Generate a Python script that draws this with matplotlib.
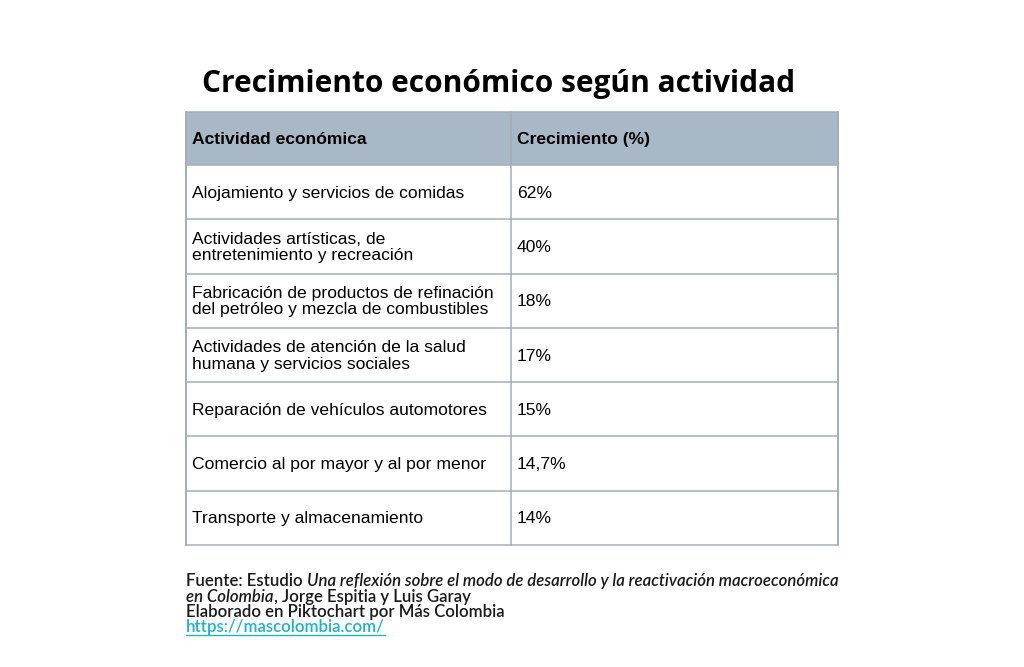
import matplotlib.pyplot as plt
from matplotlib.patches import Rectangle

# table data
header = ['Actividad económica', 'Crecimiento (%)']
actividades = [
    'Alojamiento y servicios de comidas',
    'Actividades artísticas, de\nentretenimiento y recreación',
    'Fabricación de productos de refinación\ndel petróleo y mezcla de combustibles',
    'Actividades de atención de la salud\nhumana y servicios sociales',
    'Reparación de vehículos automotores',
    'Comercio al por mayor y al por menor',
    'Transporte y almacenamiento',
]
crecimiento = ['62%', '40%', '18%', '17%', '15%', '14,7%', '14%']

title = 'Crecimiento económico según actividad'
fuente_a = 'Fuente: Estudio '
fuente_b = 'Una reflexión sobre el modo de desarrollo y la reactivación macroeconómica'
fuente_c = 'en Colombia'
fuente_d = ', Jorge Espitia y Luis Garay'
elaborado = 'Elaborado en Piktochart por Más Colombia'
url = 'https://mascolombia.com/'

header_color = '#a9b8c7'
line_color = '#a3adb8'
table_font = 'Liberation Sans'
foot_font = 'Lato'

fig = plt.figure(figsize=(10.24, 6.67), dpi=100)
ax = fig.add_axes([0, 0, 1, 1])
ax.set_xlim(0, 1024)
ax.set_ylim(667, 0)
ax.axis('off')

# layout in pixels
x0, x1, x2 = 186, 511, 838
top = 112
head_h = 53
row_h = (545 - 165) / len(actividades)
tfs = 12.6

ax.text(499, 84, title, ha='center', va='center', fontsize=21.5,
        fontweight='bold', family='Open Sans', color='black')

ax.add_patch(Rectangle((x0, top), x2 - x0, head_h, facecolor=header_color,
                       edgecolor='none'))
for txt, x in zip(header, [x0, x1]):
    ax.text(x + 6, top + head_h / 2 + 1, txt, ha='left', va='center',
            fontsize=tfs, fontweight='bold', family=table_font, color='black')

for i, (a, c) in enumerate(zip(actividades, crecimiento)):
    y = top + head_h + i * row_h
    ax.text(x0 + 6, y + row_h / 2 + 1, a, ha='left', va='center', fontsize=tfs,
            family=table_font, color='black', linespacing=1.13)
    ax.text(x1 + 6, y + row_h / 2 + 1, c, ha='left', va='center', fontsize=tfs,
            family=table_font, color='black')

# grid lines
bottom = top + head_h + len(actividades) * row_h
ys = [top, top + head_h] + [top + head_h + (i + 1) * row_h for i in range(len(actividades))]
for y in ys:
    ax.plot([x0, x2], [y, y], color=line_color, lw=1.1, solid_capstyle='butt')
for x in [x0, x1, x2]:
    ax.plot([x, x], [top, bottom], color=line_color, lw=1.4 if x != x1 else 1.1)

# footer
fs = 12.1
fc = '#1a1a1a'
t = ax.text(186, 581, fuente_a, ha='left', va='center', fontsize=fs,
            family=foot_font, fontweight='semibold', color=fc)
t2 = ax.annotate(fuente_b, xycoords=t, xy=(1, 0.5), va='center', ha='left',
                 fontsize=fs, family=foot_font, style='italic',
                 fontweight='semibold', color=fc)
t3 = ax.text(186, 597, fuente_c, ha='left', va='center', fontsize=fs,
             family=foot_font, style='italic', fontweight='semibold', color=fc)
ax.annotate(fuente_d, xycoords=t3, xy=(1, 0.5), va='center', ha='left',
            fontsize=fs, family=foot_font, fontweight='semibold', color=fc)
ax.text(186, 612, elaborado, ha='left', va='center', fontsize=fs,
        family=foot_font, fontweight='semibold', color=fc)
u = ax.text(186, 627, url, ha='left', va='center', fontsize=fs,
            family=foot_font, fontweight='semibold', color='#1fb3c3')
fig.canvas.draw()
r = fig.canvas.get_renderer()
bb = u.get_window_extent(r).transformed(ax.transData.inverted())
ax.plot([bb.x0, bb.x1], [635, 635], color='#1fb3c3', lw=1)

fig.savefig('out.png', dpi=100, facecolor='white')
